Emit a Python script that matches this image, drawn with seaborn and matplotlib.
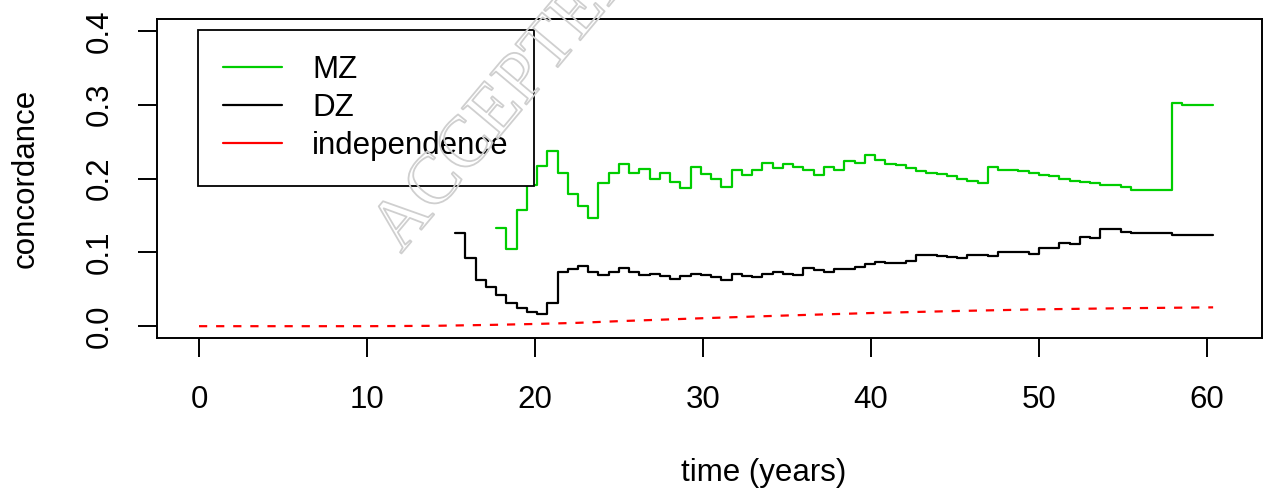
import numpy as np
import pandas as pd
import matplotlib
matplotlib.use("Agg")
import matplotlib.pyplot as plt
import matplotlib.patheffects as pe
from matplotlib.lines import Line2D
import seaborn as sns

# time grid of the estimates (years), 100 points up to ~60.4
time_grid = np.round(np.arange(100) * 0.61, 2)

# MZ concordance, starts at grid index 29
mz_start = 29
mz_values = [0.133, 0.105, 0.157, 0.191, 0.217, 0.237, 0.208, 0.179, 0.163, 0.147,
             0.194, 0.207, 0.220, 0.208, 0.213, 0.199, 0.208, 0.195, 0.187, 0.216,
             0.206, 0.199, 0.189, 0.211, 0.205, 0.212, 0.221, 0.214, 0.220, 0.215,
             0.211, 0.205, 0.216, 0.212, 0.224, 0.221, 0.232, 0.225, 0.220, 0.218,
             0.214, 0.210, 0.207, 0.206, 0.203, 0.200, 0.196, 0.194, 0.215, 0.212,
             0.211, 0.210, 0.207, 0.205, 0.204, 0.200, 0.197, 0.195, 0.194, 0.191,
             0.191, 0.188, 0.184, 0.184, 0.184, 0.184, 0.302, 0.299, 0.299, 0.299,
             0.299]

# DZ concordance, starts at grid index 25
dz_start = 25
dz_values = [0.126, 0.092, 0.063, 0.053, 0.042, 0.032, 0.024, 0.019, 0.017, 0.032,
             0.073, 0.077, 0.082, 0.074, 0.069, 0.073, 0.079, 0.074, 0.069, 0.071,
             0.068, 0.064, 0.068, 0.071, 0.069, 0.067, 0.063, 0.070, 0.068, 0.067,
             0.070, 0.073, 0.070, 0.069, 0.079, 0.076, 0.073, 0.078, 0.077, 0.080,
             0.084, 0.087, 0.086, 0.085, 0.088, 0.097, 0.096, 0.095, 0.094, 0.092,
             0.097, 0.096, 0.095, 0.100, 0.100, 0.100, 0.098, 0.106, 0.106, 0.113,
             0.111, 0.121, 0.120, 0.131, 0.131, 0.128, 0.126, 0.126, 0.126, 0.126,
             0.124, 0.123, 0.123, 0.123, 0.123]

# concordance under independence
indep_time = [0, 5, 10, 14, 17.5, 20, 22.5, 25, 27.5, 30, 35, 40, 45, 50, 55, 60.39]
indep_values = [0, 0, 0, 0.0005, 0.0018, 0.003, 0.0045, 0.0068, 0.0088, 0.0108,
                0.0145, 0.0178, 0.0205, 0.0228, 0.0243, 0.0255]

series_labels = ["MZ", "DZ", "independence"]
series_colors = ["#00CD00", "black", "red"]

mz = pd.DataFrame({"time": time_grid[mz_start:], "concordance": mz_values})
dz = pd.DataFrame({"time": time_grid[dz_start:], "concordance": dz_values})
indep = pd.DataFrame({"time": indep_time, "concordance": indep_values})

sns.set_theme(style="ticks")
plt.rcParams["font.family"] = ["Liberation Sans", "DejaVu Sans"]
plt.rcParams["text.color"] = "black"
plt.rcParams["axes.labelcolor"] = "black"
fs = 22.5

fig = plt.figure(figsize=(12.64, 4.93), dpi=100)
ax = fig.add_axes([157 / 1264, 1 - 338 / 493, (1262 - 157) / 1264, (338 - 19) / 493])
ax.set_facecolor("none")

sns.lineplot(data=mz, x="time", y="concordance", color=series_colors[0],
             drawstyle="steps-post", lw=1.6, ax=ax)
sns.lineplot(data=dz, x="time", y="concordance", color=series_colors[1],
             drawstyle="steps-post", lw=1.6, ax=ax)
sns.lineplot(data=indep, x="time", y="concordance", color=series_colors[2],
             linestyle=(0, (3.7, 4.0)), lw=1.6, ax=ax)

ax.set_xlim(-2.5, 63.3)
ax.set_ylim(-0.016, 0.416)
ax.set_xticks([0, 10, 20, 30, 40, 50, 60])
ax.set_yticks([0.0, 0.1, 0.2, 0.3, 0.4])
ax.set_yticklabels(["0.0", "0.1", "0.2", "0.3", "0.4"])
for s in ax.spines.values():
    s.set_visible(True)
    s.set_color("black")
    s.set_linewidth(1.4)
ax.tick_params(axis="both", direction="out", length=13.5, width=1.4,
               labelsize=fs, colors="black", labelcolor="black")
ax.tick_params(axis="x", pad=20)
ax.tick_params(axis="y", pad=17, labelrotation=90)
for lab in ax.get_yticklabels():
    lab.set_va("center")

ax.set_xlabel("time (years)", fontsize=fs, va="center", color="black")
ax.xaxis.set_label_coords((764 - 157) / 1105, (338 - 473) / 319)
ax.set_ylabel("concordance", fontsize=fs, va="center", color="black")
ax.yaxis.set_label_coords((26 - 157) / 1105, 0.5)

handles = [Line2D([], [], color=c, lw=1.6) for c in series_colors]
leg = ax.legend(handles, series_labels, loc="upper left",
                bbox_to_anchor=(198 / 1264, 1 - 30 / 493), bbox_transform=fig.transFigure,
                borderaxespad=0, fontsize=fs, frameon=True, fancybox=False,
                edgecolor="black", framealpha=1, borderpad=0.8, labelspacing=0.25,
                handlelength=1.9, handletextpad=0.95, labelcolor="black")
leg.get_frame().set_linewidth(1.3)

# faint watermark of the source page
fig.text(401 / 1264, 1 - 254 / 493, "ACCEPTED MANUSCRIPT", rotation=50,
         rotation_mode="anchor", ha="left", va="baseline", fontsize=52,
         family="Liberation Serif", color="none", zorder=10,
         path_effects=[pe.Stroke(linewidth=1.3, foreground="#cfcfcf")])

fig.savefig("out.png", dpi=100)
